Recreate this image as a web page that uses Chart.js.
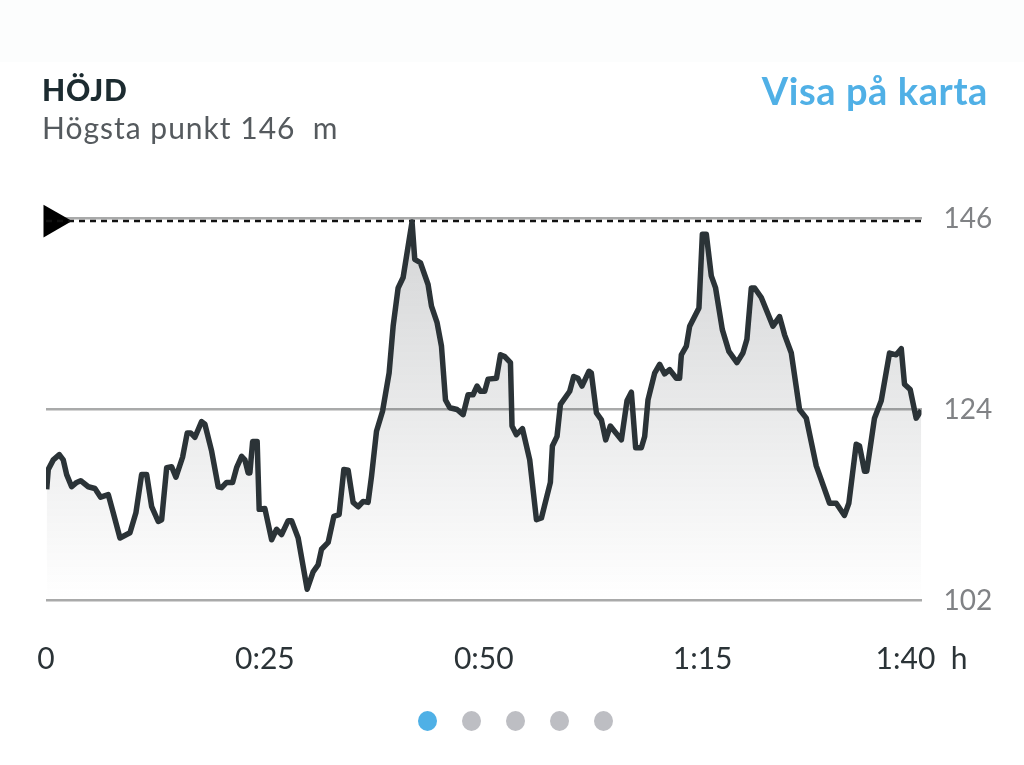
<!DOCTYPE html>
<html lang="sv">
<head>
<meta charset="utf-8">
<title>Höjd</title>
<script src="https://cdn.jsdelivr.net/npm/chart.js@4"></script>
<style>
html, body { margin:0; padding:0; background:#fff; }
body { width:1024px; height:765px; position:relative; overflow:hidden; font-family:Lato, "Open Sans", sans-serif; }
#band { position:absolute; left:0; top:0; width:1024px; height:62px; background:#fcfdfd; }
#title { position:absolute; left:42px; top:71px; font-size:30px; line-height:36px; font-weight:900; letter-spacing:0.8px; color:#1c2b30; }
#sub { position:absolute; left:42px; top:109px; font-size:30px; line-height:36px; letter-spacing:1px; color:#555a5e; white-space:pre; }
#link { position:absolute; right:36px; top:67px; font-size:38px; line-height:46px; font-weight:700; letter-spacing:0.6px; color:#50b0e6; }
#elevationChart { position:absolute; left:0; top:0; }
.dot { position:absolute; top:711px; width:19px; height:20px; border-radius:50%; background:#bdbec3; }
</style>
</head>
<body>
<div id="band"></div>
<canvas id="elevationChart" width="1024" height="765"></canvas>
<div id="title">HÖJD</div>
<div id="sub">Högsta punkt 146  m</div>
<div id="link">Visa på karta</div>
<div class="dot" style="left:418px;background:#4fb0e6"></div>
<div class="dot" style="left:462px"></div>
<div class="dot" style="left:506px"></div>
<div class="dot" style="left:550px"></div>
<div class="dot" style="left:594px"></div>
<script>
// DATA
let minutes = [
    0.08,0.26,0.83,1.52,1.97,2.36,2.93,3.5,3.96,4.83,5.59,6.24,7.11,7.68,8.45,9.59,10.27,10.92,11.5,12.07,
    12.82,13.21,13.78,14.35,14.84,15.6,16.13,16.52,17.01,17.77,18.15,18.92,19.67,20.06,20.63,21.31,21.77,22.34,22.72,23.09,
    23.29,23.6,24.12,24.35,25,25.77,26.34,26.91,27.66,28.05,28.8,29.83,30.51,31.08,31.47,32.23,32.88,33.48,34.02,34.51,
    35.08,35.65,36.22,36.79,37.18,37.75,38.44,39.19,39.65,40.22,40.79,41.55,41.81,42.12,42.77,43.64,44.03,44.67,45.17,45.63,
    46.12,46.95,47.64,48.21,48.78,49.23,49.62,50.11,50.49,51.45,51.91,52.4,53.05,53.23,53.73,54.42,55.25,56.02,56.59,57.61,
    57.84,58.37,58.76,59.82,60.27,60.76,61.22,62.02,62.29,62.87,63.44,63.93,64.46,65.72,66.36,66.86,67.35,68,68.38,68.76,
    69.52,70.09,70.66,71.23,72,72.37,72.57,73.14,73.52,74.58,74.97,75.42,75.99,76.48,77.25,78,78.92,79.6,80.06,80.56,
    80.94,81.7,83.03,83.79,84.36,85.13,86.07,86.84,87.98,89.5,90.26,91.2,91.7,92.54,92.92,93.49,93.75,94.63,95.4,96.35,
    97.11,97.69,98.06,98.71,99.39,99.97
];
let elevation = [
    114.8,117.1,118.2,118.8,118.2,116.5,115.1,115.6,115.8,115.1,114.9,113.9,114.2,112.1,109.2,109.8,112.1,116.5,116.5,112.8,
    111.1,111.3,117.3,117.4,116.2,118.5,121.3,121.3,120.8,122.6,122.3,119.2,115.1,115,115.6,115.6,117.3,118.6,118.2,116.7,
    116.7,120.3,120.3,112.5,112.6,109,110.2,109.6,111.2,111.2,109.2,103.3,105.3,106.1,107.9,108.7,111.7,111.9,117.1,117,
    113.3,112.8,113.4,113.3,116.3,121.5,123.8,128.2,133.6,138,139.2,144,145.6,141.3,140.9,138.4,135.9,134,131.3,125.1,
    124.2,124,123.4,125.7,125.7,126.7,126.1,126.1,127.5,127.6,130.3,130.1,129.4,122.1,121.1,121.8,118.2,111.3,111.5,115.6,
    119.8,120.9,124.6,126.1,127.8,127.6,126.7,128.4,128.2,123.6,122.8,120.5,122.1,120.5,125,126,119.6,119.6,120.9,125.1,
    128.2,129.2,128.1,128.6,127.6,127.6,130.3,131.3,133.6,135.7,144.2,144.2,139.4,138,133.2,130.7,129.4,130.5,132.1,138,
    138,136.9,133.6,134.7,132.6,130.5,124,123,117.5,113.2,113.2,111.8,113.2,120,119.8,116.9,116.9,123,125,130.5,
    130.3,131,126.9,126.3,123,123.9
];
let xTicks = [0, 25, 50, 75, 100];
let xTickLabels = ["0", "0:25", "0:50", "1:15", "1:40  h"];
let yTicks = [102, 124, 146];
let peakLineX = [0, 100];
let peakLineY = [145.7, 145.7];
let markerX = [0.8];
let markerY = [145.7];

// FILL UNDER THE LINE
function areaGradient(context) {
    let area = context.chart.chartArea;
    if (!area) return "rgba(40,46,52,0.1)";
    let g = context.chart.ctx.createLinearGradient(0, area.top, 0, area.bottom);
    g.addColorStop(0, "rgba(40,46,52,0.2)");
    g.addColorStop(0.5, "rgba(40,46,52,0.1)");
    g.addColorStop(1, "rgba(40,46,52,0)");
    return g;
}

new Chart(document.getElementById("elevationChart"), {
    type: "line",
    data: {
        datasets: [
            {
                label: "Höjd",
                data: minutes.map((m, i) => ({ x: m, y: elevation[i] })),
                borderColor: "#2b3337",
                borderWidth: 5.5,
                backgroundColor: areaGradient,
                fill: "start",
                tension: 0,
                pointRadius: 0,
                borderJoinStyle: "round"
            },
            {
                label: "Högsta punkt",
                data: peakLineX.map((x, i) => ({ x: x, y: peakLineY[i] })),
                borderColor: "#111",
                borderWidth: 2.5,
                borderDash: [6, 5],
                pointRadius: 0
            },
            {
                label: "Markör",
                data: markerX.map((x, i) => ({ x: x, y: markerY[i] })),
                showLine: false,
                clip: false,
                pointStyle: "triangle",
                rotation: 90,
                pointRadius: 19,
                backgroundColor: "#000",
                borderWidth: 0
            }
        ]
    },
    options: {
        responsive: false,
        animation: false,
        devicePixelRatio: 1,
        layout: { padding: { left: 46, top: 218.5, right: 0, bottom: 0 } },
        plugins: { legend: { display: false }, tooltip: { enabled: false } },
        scales: {
            x: {
                type: "linear",
                min: 0,
                max: 100,
                afterFit: function(scale) { scale.height = 164.5; },
                afterBuildTicks: function(scale) { scale.ticks = xTicks.map(v => ({ value: v })); },
                border: { display: false },
                grid: { display: false },
                ticks: {
                    autoSkip: false,
                    maxRotation: 0,
                    padding: 33,
                    color: "#2b3337",
                    font: { family: "Lato", size: 30 },
                    callback: function(value) { return xTickLabels[xTicks.indexOf(value)]; }
                }
            },
            y: {
                position: "right",
                min: 102,
                max: 146,
                afterFit: function(scale) { scale.width = 102.5; },
                afterBuildTicks: function(scale) { scale.ticks = yTicks.map(v => ({ value: v })); },
                border: { display: false },
                grid: { color: "#a9aaaa", lineWidth: 2.5, drawTicks: false },
                ticks: {
                    padding: 22,
                    color: "#808285",
                    font: { family: "Lato", size: 28 }
                }
            }
        }
    }
});
</script>
</body>
</html>
